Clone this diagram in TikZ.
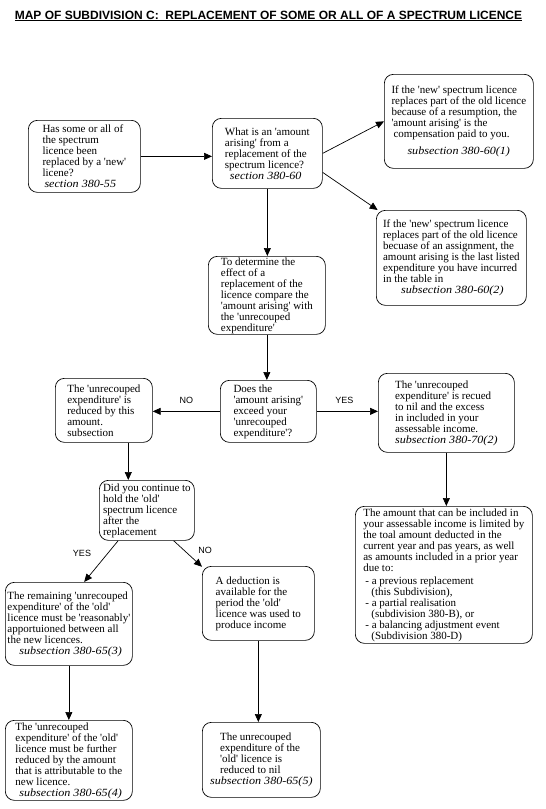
\documentclass[tikz,border=0pt]{standalone}
\usepackage{fontspec}
\setmainfont{Liberation Serif}[ItalicFeatures={FakeStretch=1.1}]
\newfontfamily\labfont{Liberation Sans}
\usetikzlibrary{arrows.meta,calc}
\newcommand\qs{\textquotesingle}
\begin{document}
\begin{tikzpicture}[x=1pt,y=1pt,
  box/.style={draw,line width=0.7pt,rounded corners=9pt,anchor=north west,align=left,
    inner xsep=2pt,inner ysep=1pt,font=\fontsize{11}{11}\selectfont},
  conn/.style={line width=0.7pt,-{Triangle[length=8pt,width=7pt]}},
  lab/.style={font=\labfont\fontsize{9}{10}\selectfont}]
\useasboundingbox (0,0) rectangle (546,-809);
\node[font=\labfont\bfseries\fontsize{12}{14}\selectfont] (title) at (268.5,-16) {\underline{MAP OF SUBDIVISION C:\ \ REPLACEMENT OF SOME OR ALL OF A SPECTRUM LICENCE}};

\node[box,minimum width=112pt,minimum height=72pt] (b1) at (28,-120)
 {Has some or all of\\the spectrum\\licence been\\replaced by a \qs new\qs\\licene?\\\hspace*{2pt}\textit{section 380-55}};
\node[box,minimum width=110pt,minimum height=70pt] (b2) at (212,-118)
 {What is an \qs amount\\arising\qs\ from a\\replacement of the\\spectrum licence?\\\hspace*{5pt}\textit{section 380-60}};
\node[box,minimum width=149pt,minimum height=94pt] (b3) at (384,-74)
 {If the \qs new\qs\ spectrum licence\\replaces part of the old licence\\because of a resumption, the\\\qs amount arising\qs\ is the\\\hspace*{2pt}compensation paid to you.\\[6pt]\hspace*{16pt}\textit{subsection 380-60(1)}};
\node[box,minimum width=150pt,minimum height=95pt] (b4) at (376,-210)
 {If the \qs new\qs\ spectrum licence\\replaces part of the old licence\\becuase of an assignment, the\\amount arising is the last listed\\expenditure you have incurred\\in the table in\\\hspace*{18pt}\textit{subsection 380-60(2)}};
\node[box,minimum width=117pt,minimum height=78pt] (b5) at (208,-256)
 {To determine the\\effect of a\\replacement of the\\licence compare the\\\qs amount arising\qs\ with\\the \qs unrecouped\\expenditure\qs};
\node[box,minimum width=96pt,minimum height=62pt] (b6) at (220,-380)
 {Does the\\\qs amount arising\qs\\exceed your\\\qs unrecouped\\expenditure\qs ?};
\node[box,minimum width=97pt,minimum height=64pt] (b7) at (55,-378)
 {The \qs unrecouped\\expenditure\qs\ is\\reduced by this\\amount.\\subsection};
\node[box,minimum width=136pt,minimum height=79pt] (b8) at (378,-373)
 {The \qs unrecouped\\expenditure\qs\ is recued\\to nil and the excess\\in included in your\\assessable income.\\\textit{subsection 380-70(2)}};
\node[box,minimum width=177pt,minimum height=137pt] (b9) at (355,-506)
 {The amount that can be included in\\your assessable income is limited by\\the toal amount deducted in the\\current year and pas years, as well\\as amounts included in a prior year\\due to:\\[2pt]\hspace*{2pt}- a previous replacement\\\hspace*{8pt}(this Subdivision),\\\hspace*{2pt}- a partial realisation\\\hspace*{8pt}(subdivision 380-B), or\\\hspace*{2pt}- a balancing adjustment event\\\hspace*{8pt}(Subdivision 380-D)};
\node[box,minimum width=95pt,minimum height=60pt] (b10) at (99,-480)
 {Did you continue to\\hold the \qs old\qs\\spectrum licence\\after the\\replacement};
\node[box,minimum width=127pt,minimum height=83pt] (b11) at (5,-582)
 {The remaining \qs unrecouped\\expenditure\qs\ of the \qs old\qs\\licence must be \qs reasonably\qs\\apportuioned between all\\the new licences.\\\hspace*{12pt}\textit{subsection 380-65(3)}};
\node[box,minimum width=112pt,minimum height=74pt] (b12) at (202,-566)
 {A deduction is\\available for the\\period the \qs old\qs\\licence was used to\\produce income};
\node[box,minimum width=127pt,minimum height=80pt] (b13) at (5,-720)
 {The \qs unrecouped\\expenditure\qs\ of the \qs old\qs\\licence must be further\\reduced by the amount\\that is attributable to the\\new licence.\\\hspace*{4pt}\textit{subsection 380-65(4)}};
\node[box,minimum width=118pt,minimum height=75pt] (b14) at (202,-722)
 {\hspace*{10pt}The unrecouped\\\hspace*{10pt}expenditure of the\\\hspace*{10pt}\qs old\qs\ licence is\\\hspace*{10pt}reduced to nil\\\textit{subsection 380-65(5)}};

% connectors
\draw[conn] (b1.east) -- (b1.east -| b2.west);
\draw[conn] (b2.east) -- (b3.west);
\draw[conn] (b2.-19) -- (b4.147);
\draw[conn] (b2.south) -- (b2.south |- b5.north);
\draw[conn] (b5.south) -- (b5.south |- b6.north);
\draw[conn] (b6.west) -- (b6.west -| b7.east) node[lab,pos=0.5,above=4pt] (no1) {NO};
\draw[conn] (b6.east) -- (b6.east -| b8.west) node[lab,pos=0.45,above=4pt] (yes1) {YES};
\draw[conn] (b8.south) -- (b8.south |- b9.north);
\coordinate (b7s) at ($(b7.south west)!0.75!(b7.south east)$);
\draw[conn] (b7s) -- (b7s |- b10.north);
\coordinate (b10a) at ($(b10.south west)!0.2!(b10.south east)$);
\coordinate (b10b) at ($(b10.south west)!0.78!(b10.south east)$);
\coordinate (b11n) at ($(b11.north west)!0.62!(b11.north east)$);
\draw[conn] (b10a) -- (b11n);
\draw[conn] (b10b) -- (b12.147);
\node[lab] (yes2) at (82,-553) {YES};
\node[lab] (no2) at (205,-550) {NO};
\draw[conn] (b11.south) -- (b11.south |- b13.north);
\draw[conn] (b12.south) -- (b12.south |- b14.north);
\end{tikzpicture}
\end{document}
